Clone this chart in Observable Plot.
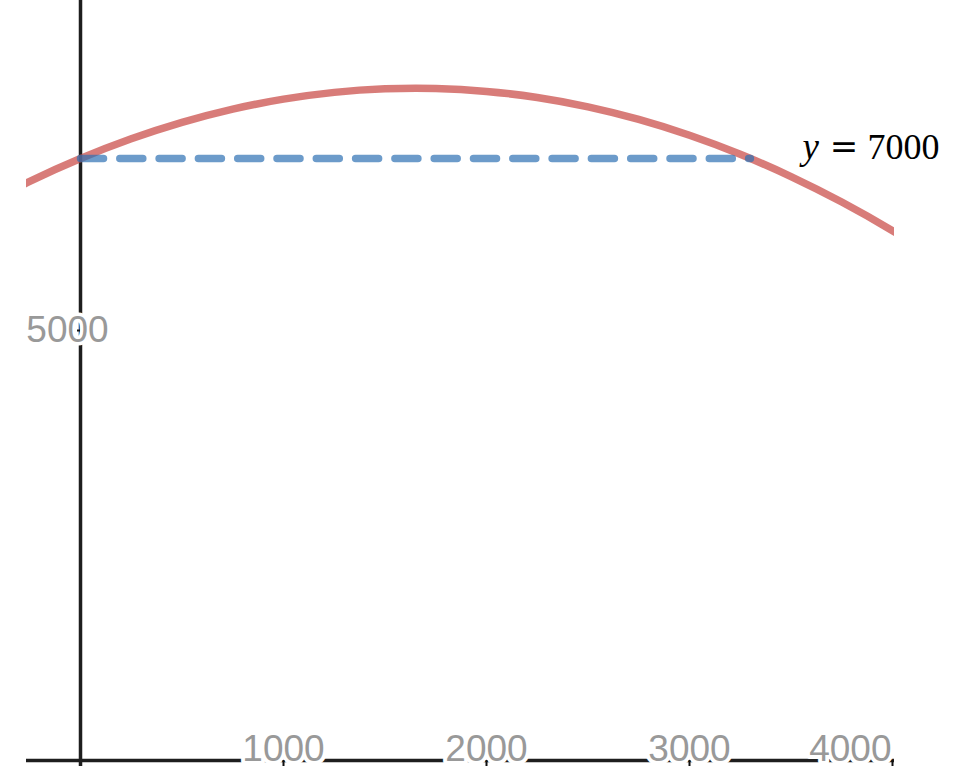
<!DOCTYPE html>
<html>
<head>
<meta charset="utf-8">
<script src="https://cdn.jsdelivr.net/npm/d3@7"></script>
<script src="https://cdn.jsdelivr.net/npm/@observablehq/plot@0.6"></script>
<style>
  html, body { margin: 0; padding: 0; background: #fff; }
  svg { display: block; }
</style>
</head>
<body>
<div id="chart"></div>
<script>
// Curve samples (x, y)
const curveX = [-500, -250, 0, 250, 500, 750, 1000, 1250, 1500, 1750, 2000, 2250, 2500, 2750, 3000, 3250, 3500, 3750, 4000, 4250];
const curveY = [6430, 6734, 7000, 7229, 7420, 7574, 7690, 7769, 7810, 7814, 7780, 7709, 7600, 7454, 7270, 7049, 6790, 6494, 6160, 5789];

// Horizontal level line y = 7000, from the y-axis to where it meets the curve
const levelY = 7000;
const levelX = [0, 3300];

// Tick labels
const xTicks = [1000, 2000, 3000, 4000];
const yTicks = [5000];

// Label for the level line
const labelParts = ["y", "=", "7000"];

const curve = curveX.map((x, i) => ({x, y: curveY[i]}));
const level = levelX.map(x => ({x, y: levelY}));
const labelEnd = {x: levelX[1], y: levelY};
const innerXTicks = xTicks.slice(0, -1);
const edgeXTicks = xTicks.slice(-1);

const tickFont = "'Liberation Sans', Arial, Helvetica, sans-serif";
const mathFont = "'Liberation Serif', 'Times New Roman', serif";

const tickLabelStyle = {
  fontSize: 37, fontFamily: tickFont, fill: "#999",
  stroke: "white", strokeWidth: 8, lineAnchor: "middle", dy: -11
};

const chart = Plot.plot({
  width: 953,
  height: 766,
  marginLeft: 26,
  marginRight: 59,
  marginTop: 0,
  marginBottom: 0,
  style: {background: "#fff"},
  x: {domain: [0, 4000], range: [80, 892], axis: null},
  y: {domain: [0, 7000], range: [760, 158], axis: null},
  marks: [
    // axes lines
    Plot.ruleY([0], {stroke: "#1e1e1e", strokeWidth: 3.5}),
    Plot.ruleX([0], {stroke: "#1e1e1e", strokeWidth: 3.5}),
    // x tick labels with white halo
    Plot.text(innerXTicks, {
      x: d => d, y: 0, text: d => String(d), textAnchor: "middle", ...tickLabelStyle
    }),
    Plot.text(edgeXTicks, {
      x: d => d, y: 0, text: d => String(d), textAnchor: "end", ...tickLabelStyle, dx: -1
    }),
    // y tick labels
    Plot.text(yTicks, {
      x: 0, y: d => d, text: d => String(d),
      fontSize: 37, fontFamily: tickFont, fill: "#999",
      stroke: "white", strokeWidth: 7, lineAnchor: "middle", dx: -13, textAnchor: "middle"
    }),
    // small tick marks
    Plot.ruleX(xTicks, {x: d => d, y1: 0, y2: 0, insetBottom: -6, stroke: "#111", strokeWidth: 2}),
    Plot.ruleY(yTicks, {y: d => d, x1: 0, x2: 0, insetLeft: -3, stroke: "#111", strokeWidth: 2}),
    // red parabola
    Plot.line(curve, {
      x: "x", y: "y", curve: "natural",
      stroke: "#c74440", strokeOpacity: 0.7, strokeWidth: 7.5,
      strokeLinecap: "round", clip: true
    }),
    // blue dashed level line
    Plot.line(level, {
      x: "x", y: "y",
      stroke: "#2d70b3", strokeOpacity: 0.7, strokeWidth: 7.5,
      strokeLinecap: "round", strokeDasharray: "23,16.3"
    }),
    // label "y = 7000"
    Plot.text([labelEnd], {
      x: "x", y: "y", text: () => labelParts[0],
      fontSize: 37, fontFamily: mathFont, fontStyle: "italic", fill: "#000",
      textAnchor: "start", lineAnchor: "middle", dx: 52, dy: -11.8
    }),
    Plot.text([labelEnd], {
      x: "x", y: "y", text: () => labelParts[1],
      fontSize: 34, fontFamily: "'DejaVu Serif', serif", fill: "#000",
      textAnchor: "middle", lineAnchor: "middle", dx: 93.5, dy: -10.9
    }),
    Plot.text([labelEnd], {
      x: "x", y: "y", text: () => labelParts[2],
      fontSize: 36, fontFamily: mathFont, fill: "#000",
      textAnchor: "start", lineAnchor: "middle", dx: 117, dy: -11.5
    })
  ]
});

document.getElementById("chart").appendChild(chart);
</script>
</body>
</html>
